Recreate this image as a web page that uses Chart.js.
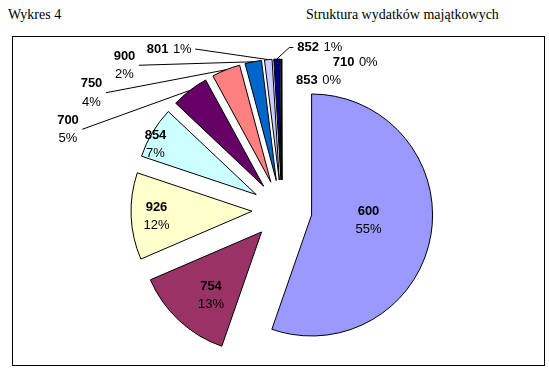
<!DOCTYPE html>
<html lang="pl">
<head>
<meta charset="UTF-8">
<title>Wykres 4</title>
<script src="https://cdn.jsdelivr.net/npm/chart.js@4"></script>
<style>
  body {
    margin: 0;
    background: #fff;
    width: 549px;
    height: 370px;
    position: relative;
    overflow: hidden;
  }
  .title {
    position: absolute;
    top: 7px;
    font-family: "Liberation Serif", "Times New Roman", serif;
    font-size: 14px;
    line-height: 16px;
    color: #000;
    white-space: nowrap;
  }
  #frame {
    position: absolute;
    left: 12px;
    top: 36px;
    width: 533px;
    height: 330px;
    border: 1px solid #000;
    box-sizing: border-box;
  }
  #chart {
    position: absolute;
    left: 0;
    top: 0;
  }
</style>
</head>
<body>
<div class="title" style="left:8px">Wykres 4</div>
<div class="title" style="left:306px">Struktura wydatków majątkowych</div>
<div id="frame"></div>
<canvas id="chart" width="549" height="370"></canvas>

<script>
// categories (budget chapters) and their share of spending, in percent
const categories = ['600', '754', '926', '854', '700', '750', '900', '801', '852', '710', '853'];
const shares = [55.3, 13.2, 11.6, 6.9, 5.0, 3.8, 2.2, 1.0, 0.8, 0.1, 0.05];

// Excel-like default fill palette
const sliceColors = ['#9999FF', '#993366', '#FFFFCC', '#CCFFFF', '#660066', '#FF8080',
                     '#0066CC', '#CCCCFF', '#000080', '#FF00FF', '#FFFF00'];

const EXPLODE = 30;      // how far every slice is pulled out from the centre
const LINE = 18.5;       // gap between number and percent in two-line labels
const BOLD = 'bold 13px "Liberation Sans", Arial, sans-serif';
const REG = '13px "Liberation Sans", Arial, sans-serif';

// where each data label sits on the page (two-line labels are centred, one-line start at x)
const labelSpots = [
  { x: 368.5, y: 211, lines: 2 },
  { x: 211, y: 286, lines: 2 },
  { x: 156.5, y: 207, lines: 2 },
  { x: 155.5, y: 135, lines: 2 },
  { x: 68, y: 120, lines: 2, leader: 'right' },
  { x: 91.5, y: 83.5, lines: 2, leader: 'right' },
  { x: 124.5, y: 56, lines: 2, leader: 'right' },
  { x: 146.7, y: 49, lines: 1, leader: 'right' },
  { x: 297.3, y: 47.5, lines: 1, leader: 'left' },
  { x: 332.7, y: 62.3, lines: 1 },
  { x: 296, y: 80.7, lines: 1 }
];

// draw each arc shifted outward along its middle angle (exploded pie)
const explodePlugin = {
  id: 'explode',
  beforeDatasetDraw(chart, args) {
    const ctx = chart.ctx;
    args.meta.data.forEach(arc => {
      const mid = (arc.startAngle + arc.endAngle) / 2;
      ctx.save();
      ctx.translate(Math.cos(mid) * EXPLODE, Math.sin(mid) * EXPLODE);
      arc.draw(ctx);
      ctx.restore();
    });
    return false;
  }
};

// labels with category in bold and percent below / beside, plus leader lines
const labelPlugin = {
  id: 'pieLabels',
  afterDatasetsDraw(chart) {
    const ctx = chart.ctx;
    const meta = chart.getDatasetMeta(0);
    const total = shares.reduce((a, b) => a + b, 0);
    ctx.save();
    ctx.fillStyle = '#000';
    ctx.strokeStyle = '#000';
    ctx.lineWidth = 1;
    ctx.textBaseline = 'middle';
    meta.data.forEach((arc, i) => {
      const spot = labelSpots[i];
      const num = categories[i];
      const pct = Math.round(shares[i] / total * 100) + '%';
      ctx.font = BOLD;
      const wNum = ctx.measureText(num).width;
      ctx.font = REG;
      const wPct = ctx.measureText(pct).width;
      let box;
      if (spot.lines === 2) {
        ctx.textAlign = 'center';
        ctx.font = BOLD;
        ctx.fillText(num, spot.x, spot.y);
        ctx.font = REG;
        ctx.fillText(pct, spot.x, spot.y + LINE);
        const w = Math.max(wNum, wPct);
        box = { l: spot.x - w / 2, r: spot.x + w / 2, cy: spot.y + LINE / 2 };
      } else {
        const gap = 4.5;
        ctx.textAlign = 'left';
        ctx.font = BOLD;
        ctx.fillText(num, spot.x, spot.y);
        ctx.font = REG;
        ctx.fillText(pct, spot.x + wNum + gap, spot.y);
        box = { l: spot.x, r: spot.x + wNum + gap + wPct, cy: spot.y };
      }
      if (spot.leader) {
        const mid = (arc.startAngle + arc.endAngle) / 2;
        const ex = arc.x + Math.cos(mid) * (EXPLODE + arc.outerRadius);
        const ey = arc.y + Math.sin(mid) * (EXPLODE + arc.outerRadius);
        ctx.beginPath();
        if (spot.leader === 'right') {
          ctx.moveTo(box.r + 3.5, box.cy);
        } else {
          ctx.moveTo(box.l - 4, box.cy);
          ctx.lineTo(box.l - 8, box.cy);
        }
        ctx.lineTo(ex, ey);
        ctx.stroke();
      }
    });
    ctx.restore();
  }
};

new Chart(document.getElementById('chart'), {
  type: 'pie',
  data: {
    labels: categories,
    datasets: [{
      data: shares,
      backgroundColor: sliceColors,
      borderColor: '#000',
      borderWidth: 1
    }]
  },
  options: {
    responsive: false,
    animation: false,
    radius: 121,
    layout: {
      padding: { left: 20, right: 5, top: 60, bottom: 10 }
    },
    elements: {
      arc: { borderJoinStyle: 'miter' }
    },
    plugins: {
      legend: { display: false },
      tooltip: { enabled: false }
    }
  },
  plugins: [explodePlugin, labelPlugin]
});
</script>
</body>
</html>
